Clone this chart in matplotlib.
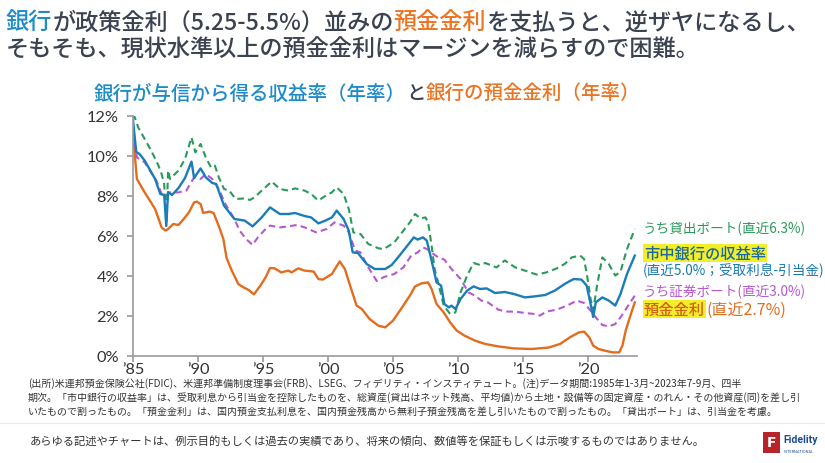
import matplotlib
matplotlib.use("Agg")
import matplotlib.pyplot as plt
from matplotlib.patches import Rectangle
from matplotlib.lines import Line2D

plt.rcParams['font.family'] = ['Noto Sans CJK JP', 'DejaVu Sans']

# ---------------- data ----------------
years_loan = [1985.0, 1985.1, 1985.4, 1985.9, 1986.4, 1986.96, 1987.2, 1987.4, 1987.56, 1987.7,
              1987.85, 1988.1, 1988.5, 1989.0, 1989.5, 1989.8, 1990.2, 1990.6, 1991.0, 1991.3,
              1991.6, 1992.0, 1992.4, 1992.9, 1993.6, 1994.0, 1994.38, 1994.9, 1995.67, 1996.3,
              1996.95, 1997.46, 1998.2, 1998.7, 1999.26, 1999.9, 2000.3, 2000.67, 2001.2, 2001.6,
              2001.95, 2002.5, 2003.1, 2003.9, 2004.3, 2005.1, 2005.8, 2006.3, 2006.7, 2007.1,
              2007.5, 2007.7, 2007.97, 2008.2, 2008.5, 2008.9, 2009.4, 2009.8, 2010.2, 2010.7,
              2011.2, 2011.7, 2012.1, 2012.6, 2012.97, 2013.6, 2014.4, 2015.15, 2016.05, 2016.8,
              2017.6, 2018.2, 2018.75, 2019.4, 2019.7, 2019.97, 2020.2, 2020.4, 2020.7, 2021.1,
              2021.6, 2022.1, 2022.5, 2023.0, 2023.6]
loan_yield = [11.9, 12.0, 11.43, 10.85, 10.27, 9.52, 9.1, 8.6, 6.6, 9.27,
              8.85, 9.02, 9.27, 9.85, 10.93, 10.18, 10.6, 9.93, 9.43, 9.52,
              8.93, 8.35, 8.27, 7.85, 7.88, 7.8, 7.95, 8.27, 8.72, 8.35,
              8.27, 8.38, 8.27, 8.1, 7.77, 8.05, 8.18, 8.43, 8.1, 7.35,
              6.18, 6.1, 5.6, 5.38, 5.35, 5.68, 6.27, 6.68, 7.1, 6.88,
              6.93, 6.68, 5.52, 4.35, 3.6, 2.52, 2.1, 2.18, 3.18, 4.02,
              4.65, 4.55, 4.65, 4.52, 4.43, 4.78, 4.43, 4.27, 4.07, 4.18,
              4.38, 4.6, 4.93, 5.02, 4.85, 3.85, 2.85, 2.3, 3.52, 4.93,
              4.6, 4.02, 4.22, 5.35, 6.35]

years_total = [1985.0, 1985.25, 1985.5, 1985.9, 1986.7, 1987.1, 1987.4, 1987.56, 1987.7, 1988.0,
               1988.5, 1989.0, 1989.5, 1989.7, 1990.2, 1990.6, 1991.1, 1991.4, 1992.0, 1992.8,
               1993.6, 1994.2, 1994.9, 1995.54, 1996.3, 1996.95, 1997.46, 1998.2, 1998.7, 1999.26,
               1999.9, 2000.3, 2000.67, 2001.2, 2001.6, 2001.9, 2002.3, 2002.97, 2003.6, 2004.4,
               2004.9, 2005.5, 2006.0, 2006.6, 2006.9, 2007.3, 2007.6, 2007.97, 2008.35, 2008.7,
               2008.95, 2009.3, 2009.5, 2009.8, 2010.2, 2010.7, 2011.2, 2011.7, 2012.2, 2012.85,
               2013.6, 2014.3, 2015.15, 2015.9, 2016.7, 2017.45, 2018.2, 2018.9, 2019.5, 2019.9,
               2020.2, 2020.4, 2020.6, 2021.1, 2021.6, 2022.1, 2022.5, 2023.0, 2023.6]
total_yield = [11.8, 10.2, 10.1, 9.77, 8.85, 8.1, 8.05, 6.5, 8.2, 8.05,
               8.4, 8.9, 9.72, 8.9, 9.38, 8.93, 8.65, 8.6, 7.52, 6.85,
               6.77, 6.48, 6.93, 7.43, 7.1, 7.1, 7.15, 7.0, 6.93, 6.63,
               6.8, 6.93, 7.27, 6.85, 6.27, 5.18, 5.15, 4.6, 4.35, 4.35,
               4.55, 5.02, 5.43, 5.93, 5.82, 5.93, 5.77, 4.77, 3.68, 3.52,
               2.6, 2.43, 2.52, 2.35, 2.85, 3.27, 3.48, 3.35, 3.38, 3.15,
               3.2, 3.1, 2.93, 2.98, 3.05, 3.27, 3.6, 3.85, 3.82, 3.52,
               2.6, 1.95, 2.68, 2.93, 2.77, 2.52, 3.1, 4.1, 5.02]

years_sec = [1985.0, 1985.3, 1985.9, 1986.3, 1986.8, 1987.2, 1987.5, 1987.85, 1988.5, 1989.1,
             1989.7, 1990.2, 1990.6, 1991.1, 1991.6, 1992.1, 1992.8, 1993.2, 1993.7, 1994.2,
             1994.6, 1995.2, 1995.54, 1996.3, 1996.95, 1997.6, 1998.2, 1999.1, 1999.9, 2000.5,
             2001.2, 2001.6, 2002.1, 2002.5, 2003.1, 2003.75, 2004.3, 2005.1, 2005.8, 2006.4,
             2006.9, 2007.3, 2007.6, 2008.1, 2008.5, 2008.95, 2009.5, 2010.2, 2010.8, 2011.3,
             2011.8, 2012.3, 2013.1, 2013.7, 2014.4, 2015.15, 2015.9, 2016.3, 2016.8, 2017.6,
             2018.4, 2019.15, 2019.7, 2020.2, 2020.6, 2021.1, 2021.6, 2022.1, 2022.5, 2023.0,
             2023.6]
sec_yield = [11.2, 9.93, 9.68, 9.27, 8.77, 8.1, 7.98, 8.18, 8.18, 8.27,
             8.93, 8.85, 9.1, 8.85, 8.35, 7.6, 6.85, 6.27, 5.85, 5.55,
             5.93, 6.35, 6.52, 6.43, 6.48, 6.55, 6.43, 6.18, 6.35, 6.68,
             6.52, 6.18, 5.27, 5.18, 4.43, 3.75, 3.95, 4.1, 4.43, 5.02,
             5.18, 5.43, 5.35, 5.1, 4.93, 4.82, 4.35, 3.85, 3.18, 3.02,
             2.77, 2.68, 2.32, 2.22, 2.22, 2.15, 2.1, 2.02, 2.22, 2.32,
             2.52, 2.77, 2.65, 2.27, 1.93, 1.55, 1.48, 1.6, 1.93, 2.43,
             3.02]

years_dep = [1985.0, 1985.3, 1985.9, 1986.7, 1987.2, 1987.5, 1987.7, 1988.1, 1988.5, 1988.9,
             1989.3, 1989.7, 1989.9, 1990.2, 1990.4, 1990.9, 1991.2, 1991.6, 1991.95, 1992.2,
             1992.6, 1993.1, 1993.5, 1993.9, 1994.3, 1994.8, 1995.2, 1995.54, 1995.9, 1996.4,
             1996.95, 1997.2, 1997.7, 1998.2, 1998.9, 1999.26, 1999.6, 2000.3, 2000.9, 2001.3,
             2001.7, 2002.2, 2002.6, 2003.2, 2003.87, 2004.4, 2005.0, 2005.7, 2006.3, 2006.7,
             2007.2, 2007.7, 2007.97, 2008.35, 2008.9, 2009.4, 2009.9, 2010.5, 2011.3, 2012.1,
             2013.1, 2014.3, 2015.65, 2016.95, 2017.85, 2018.6, 2019.3, 2019.7, 2020.1, 2020.4,
             2020.8, 2021.4, 2021.9, 2022.4, 2022.65, 2022.9, 2023.3, 2023.6]
deposit_rate = [11.1, 8.85, 8.18, 7.35, 6.43, 6.27, 6.35, 6.6, 6.55, 6.85,
                7.18, 7.68, 7.72, 7.6, 7.15, 7.22, 7.15, 6.5, 5.85, 4.9,
                4.27, 3.6, 3.43, 3.3, 3.08, 3.52, 3.93, 4.4, 4.38, 4.18,
                4.27, 4.18, 4.38, 4.27, 4.22, 3.85, 3.82, 4.1, 4.73, 4.35,
                3.52, 2.52, 2.35, 1.85, 1.52, 1.43, 1.77, 2.43, 3.02, 3.48,
                3.63, 3.68, 3.35, 2.6, 2.18, 1.68, 1.27, 1.02, 0.77, 0.6,
                0.48, 0.38, 0.35, 0.42, 0.6, 0.93, 1.18, 1.22, 0.93, 0.52,
                0.35, 0.25, 0.18, 0.18, 0.52, 1.27, 2.1, 2.68]

xtick_years = [1985, 1990, 1995, 2000, 2005, 2010, 2015, 2020]
xtick_labels = ["’85", "’90", "’95", "’00", "’05", "’10", "’15", "’20"]
ytick_vals = [0, 2, 4, 6, 8, 10, 12]
ytick_labels = ["0%", "2%", "4%", "6%", "8%", "10%", "12%"]

# ---------------- colours ----------------
C_BLUE = "#1b7db8"
C_GREEN = "#2a9a5a"
C_PURPLE = "#b659d1"
C_ORANGE = "#e26d1e"
C_TXT = "#3b4250"
C_TBLUE = "#1c8bc9"
C_TORANGE = "#ea7421"
C_HL = "#f4ee2a"

W, H = 825, 464
fig = plt.figure(figsize=(W / 100, H / 100), dpi=100)
fig.patch.set_facecolor("white")

def fx(px):
    return px / W

def fy(py):
    return 1 - py / H

ax_l, ax_r, ax_t, ax_b = 133, 637, 117, 357
ax = fig.add_axes([fx(ax_l), fy(ax_b), fx(ax_r - ax_l), (ax_b - ax_t) / H])

lw = 1.7
ax.plot(years_dep, deposit_rate, color=C_ORANGE, lw=lw, solid_joinstyle="round")
ax.plot(years_sec, sec_yield, color=C_PURPLE, lw=1.5, ls=(0, (3.2, 2.0)))
ax.plot(years_loan, loan_yield, color=C_GREEN, lw=1.5, ls=(0, (3.2, 2.0)))
ax.plot(years_total, total_yield, color=C_BLUE, lw=lw, solid_joinstyle="round")

ax.set_xlim(1985, 2023.77)
ax.set_ylim(0, 12)
ax.set_xticks(xtick_years)
ax.set_xticklabels(xtick_labels, fontfamily="Lato")
ax.set_yticks(ytick_vals)
ax.set_yticklabels(ytick_labels, fontfamily="Lato")
for s in ["top", "right"]:
    ax.spines[s].set_visible(False)
for s in ["left", "bottom"]:
    ax.spines[s].set_color("#9a9a9a")
    ax.spines[s].set_linewidth(1.2)
ax.tick_params(axis="both", colors="#9a9a9a", labelcolor="#333333", labelsize=11.8,
               length=4, width=1.2)
ax.tick_params(axis="y", pad=6)
ax.tick_params(axis="x", pad=0.5)
ax.set_facecolor("none")

renderer = fig.canvas.get_renderer()

def rich(x, y, pieces, size, weight="normal"):
    """Draw coloured pieces left to right starting at pixel x."""
    for txt, col in pieces:
        t = fig.text(fx(x), fy(y), txt, color=col, fontsize=size, fontweight=weight,
                     ha="left", va="center")
        x += t.get_window_extent(renderer).width
    return x

# Title
rich(6, 23, [("銀行", C_TBLUE), ("が政策金利（5.25-5.5%）並みの", C_TXT),
             ("預金金利", C_TORANGE), ("を支払うと、逆ザヤになるし、", C_TXT)],
     16.7, weight="medium")
rich(6, 50, [("そもそも、現状水準以上の預金金利はマージンを減らすので困難。", C_TXT)],
     16.7, weight="medium")

# Subtitle
rich(94, 94, [("銀行が与信から得る収益率（年率）", C_TBLUE), ("と", C_TXT),
              ("銀行の預金金利（年率）", C_TORANGE)], 14.0, weight="medium")

# Right-hand labels
lab_size = 9.8
fig.text(fx(643), fy(229), "うち貸出ポート(直近6.3%)", color=C_GREEN, fontsize=lab_size,
         ha="left", va="center")
fig.text(fx(644), fy(254), "市中銀行の収益率", color="#17699c", fontsize=11, fontweight="medium",
         ha="left", va="center",
         bbox=dict(facecolor=C_HL, edgecolor="none", pad=0.6))
fig.text(fx(643), fy(271), "(直近5.0%；受取利息-引当金)", color="#1b78b0", fontsize=lab_size,
         ha="left", va="center")
fig.text(fx(643), fy(292), "うち証券ポート(直近3.0%)", color=C_PURPLE, fontsize=lab_size,
         ha="left", va="center")
t = fig.text(fx(644), fy(310), "預金金利", color="#d4601a", fontsize=11, fontweight="medium",
             ha="left", va="center",
             bbox=dict(facecolor=C_HL, edgecolor="none", pad=0.6))
ext = t.get_window_extent(renderer)
fig.text(fx(645) + ext.width / W, fy(310), "(直近2.7%)", color=C_ORANGE, fontsize=11.5,
         ha="left", va="center")

# Footnotes
notes = [
    "(出所)米連邦預金保険公社(FDIC)、米連邦準備制度理事会(FRB)、LSEG、フィデリティ・インスティテュート。(注)データ期間:1985年1-3月~2023年7-9月、四半",
    "期次。「市中銀行の収益率」は、受取利息から引当金を控除したものを、総資産(貸出はネット残高、平均値)から土地・設備等の固定資産・のれん・その他資産(同)を差し引",
    "いたもので割ったもの。「預金金利」は、国内預金支払利息を、国内預金残高から無利子預金残高を差し引いたもので割ったもの。「貸出ポート」は、引当金を考慮。",
]
note_y = [383.5, 397.5, 411.5]
probe = fig.text(0, 0, notes[1], fontsize=10)
w10 = probe.get_window_extent(renderer).width
probe.remove()
note_size = 10 * (800 - 28) / w10
for s, yy in zip(notes, note_y):
    fig.text(fx(28), fy(yy), s, color="#333333", fontsize=note_size, ha="left", va="center")

fig.add_artist(Line2D([0, 1], [fy(424), fy(424)], transform=fig.transFigure,
                      color="#e8e8e8", lw=0.8))

fig.text(fx(30), fy(441), "あらゆる記述やチャートは、例示目的もしくは過去の実績であり、将来の傾向、数値等を保証もしくは示唆するものではありません。",
         color="#333333", fontsize=8.1, ha="left", va="center")

# Fidelity logo
fig.add_artist(Rectangle((fx(763), fy(454)), fx(17), 21 / H, transform=fig.transFigure,
                         facecolor="#b8242c", edgecolor="none"))
fig.text(fx(771.5), fy(443), "F", color="white", fontsize=10, fontweight="bold",
         ha="center", va="center", family="DejaVu Sans")
fig.text(fx(783), fy(440), "Fidelity", color="#1f4e8c", fontsize=7.6, fontweight="bold",
         ha="left", va="center", family="Roboto")
fig.text(fx(784), fy(452), "INTERNATIONAL", color="#1f4e8c", fontsize=2.8,
         ha="left", va="center", family="Roboto")

fig.savefig("out.png", dpi=100, facecolor="white")
